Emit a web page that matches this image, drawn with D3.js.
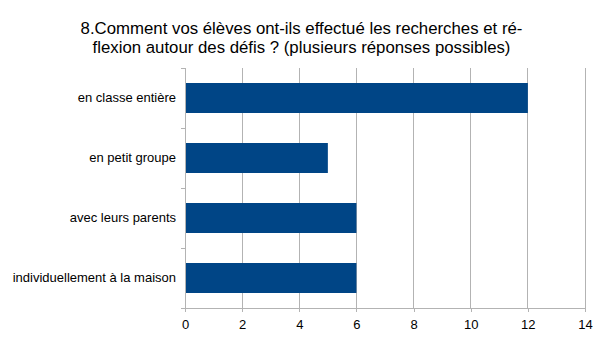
<!DOCTYPE html>
<html><head><meta charset="utf-8">
<script src="https://cdn.jsdelivr.net/npm/d3@7"></script>
<style>body{margin:0;background:#fff}text{font-family:"Liberation Sans",Arial,sans-serif}</style>
</head><body><svg id="c" width="605" height="340"></svg>
<script>
const titleLines = ["8.Comment vos élèves ont-ils effectué les recherches et ré-", "flexion autour des défis ? (plusieurs réponses possibles)"];
const categories = ["en classe entière", "en petit groupe", "avec leurs parents", "individuellement à la maison"];
const values = [12, 5, 6, 6];
const xTicks = [0, 2, 4, 6, 8, 10, 12, 14];

const svg = d3.select("#c");
const m = {left: 185, right: 585, top: 68, bottom: 308};
const x = d3.scaleLinear().domain([0, 14]).range([m.left, m.right]);
const y = d3.scaleBand().domain(categories).range([m.top, m.bottom]).paddingInner(0.5).paddingOuter(0.25);
const axisCol = "#b3b3b3";

svg.append("g").selectAll("line").data(xTicks).join("line")
  .attr("x1", d => x(d)).attr("x2", d => x(d)).attr("y1", m.top).attr("y2", m.bottom)
  .attr("stroke", axisCol).attr("shape-rendering", "crispEdges");

svg.append("g").selectAll("rect").data(values).join("rect")
  .attr("x", x(0)).attr("y", (d, i) => y(categories[i]))
  .attr("width", d => x(d) - x(0)).attr("height", y.bandwidth())
  .attr("fill", "#004586");

const xa = svg.append("g").attr("transform", `translate(0,${m.bottom})`)
  .call(d3.axisBottom(x).tickValues(xTicks).tickSize(4).tickSizeOuter(0).tickPadding(8));
const ya = svg.append("g").attr("transform", `translate(${m.left},0)`)
  .call(d3.axisLeft(y).tickSize(0).tickPadding(9));
const bounds = [m.top].concat(categories.map(c => y(c) + y.bandwidth() + y.step() * 0.25));
svg.append("g").selectAll("line").data(bounds).join("line")
  .attr("x1", m.left - 4).attr("x2", m.left).attr("y1", d => d).attr("y2", d => d)
  .attr("stroke", axisCol).attr("shape-rendering", "crispEdges");

[xa, ya].forEach(a => {
  a.selectAll(".domain").attr("stroke", axisCol).attr("shape-rendering", "crispEdges");
  a.selectAll(".tick line").attr("stroke", axisCol).attr("shape-rendering", "crispEdges");
  a.selectAll("text").attr("fill", "#000").style("font-size", "13px").style("font-family", "Liberation Sans, Arial, sans-serif");
});
xa.select(".domain").attr("d", `M${m.left - 4},0H${m.right}`);

svg.append("g").selectAll("text").data(titleLines).join("text")
  .attr("x", 301.5).attr("y", (d, i) => 34 + i * 18.5)
  .attr("text-anchor", "middle").style("font-size", "16.8px").attr("fill", "#000")
  .text(d => d);
</script></body></html>
